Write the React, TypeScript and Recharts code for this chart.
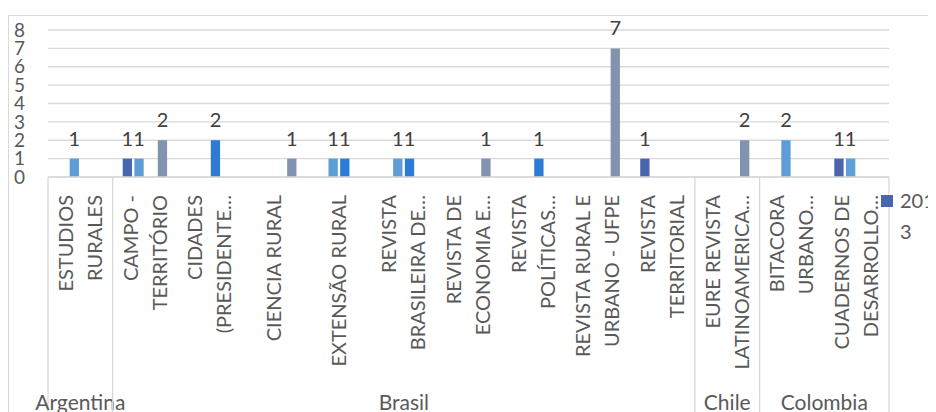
import React from 'react';
import { BarChart, Bar, XAxis, YAxis, CartesianGrid, Legend, LabelList } from 'recharts';

// journal names, one per category (\n = wrapped line, as the axis shows them)
const journals = [
  'ESTUDIOS\nRURALES',
  'CAMPO -\nTERRITÓRIO',
  'CIDADES\n(PRESIDENTE…',
  'CIENCIA RURAL',
  'EXTENSÃO RURAL',
  'REVISTA\nBRASILEIRA DE…',
  'REVISTA DE\nECONOMIA E…',
  'REVISTA\nPOLÍTICAS…',
  'REVISTA RURAL E\nURBANO - UFPE',
  'REVISTA\nTERRITORIAL',
  'EURE REVISTA\nLATINOAMERICA…',
  'BITACORA\nURBANO…',
  'CUADERNOS DE\nDESARROLLO…',
];
const countries = [
  'Argentina',
  'Brasil', 'Brasil', 'Brasil', 'Brasil', 'Brasil', 'Brasil', 'Brasil', 'Brasil', 'Brasil',
  'Chile',
  'Colombia', 'Colombia',
];

const years = ['2013', '2014', '2015', '2016'];
const colors = ['#4865AE', '#5E9ED6', '#2C7BD6', '#8193AE'];

const v2013 = [null, 1, null, null, null, null, null, null, null, 1, null, null, 1];
const v2014 = [1, 1, null, null, 1, 1, null, null, null, null, null, 2, 1];
const v2015 = [null, null, 2, null, 1, 1, null, 1, null, null, null, null, null];
const v2016 = [null, 2, null, 1, null, null, 1, null, 7, null, 2, null, null];

const yTicks = [0, 1, 2, 3, 4, 5, 6, 7, 8];

const seriesValues = [v2013, v2014, v2015, v2016];

const data = journals.map((name, i) => {
  const row: any = { name, country: countries[i] };
  years.forEach((y, k) => (row['y' + y] = seriesValues[k][i]));
  return row;
});

const W = 928;
const H = 404;
const TEXT = '#595959';
const GRID = '#d9d9d9';

function JournalTick(props: any) {
  const { x, y, payload } = props;
  const i = payload.index;
  const half = payload.offset || (W - 40 - 47) / journals.length / 2;
  const lines = journals[i].split('\n');
  const country = countries[i];
  const first = i === 0 || countries[i - 1] !== country;
  const last = i === journals.length - 1;
  const count = countries.filter((c) => c === country).length;
  const offs = lines.length === 1 ? [0] : [-14.5, 14.5];

  return (
    <g>
      {lines.map((ln, k) => {
        const lx = x + offs[k] + 7;
        const ly = y + 18;
        return (
          <text
            key={k}
            x={lx}
            y={ly}
            transform={`rotate(-90 ${lx} ${ly})`}
            textAnchor="end"
            fontSize={20}
            fill={TEXT}
          >
            {ln}
          </text>
        );
      })}
      {first && (
        <>
          <line x1={x - half} x2={x - half} y1={y} y2={H} stroke={GRID} strokeWidth={1.3} />
          <text x={x - half + count * half} y={H - 2} textAnchor="middle" fontSize={21} fill={TEXT}>
            {country}
          </text>
        </>
      )}
      {last && <line x1={x + half} x2={x + half} y1={y} y2={H} stroke={GRID} strokeWidth={1.3} />}
    </g>
  );
}

function LegendBox(props: any) {
  const item = (props.payload || [])[0];
  if (!item) return null;
  return (
    <div style={{ display: 'flex', alignItems: 'flex-start' }}>
      <span style={{ width: 12, height: 12, background: item.color, marginTop: 4, marginRight: 7, flex: 'none' }} />
      <span style={{ width: 36, wordBreak: 'break-all', fontSize: 20, lineHeight: '31px', color: TEXT, marginTop: -6 }}>
        {item.value}
      </span>
    </div>
  );
}

export default function App() {
  return (
    <div style={{ position: 'relative', width: W, height: H, fontFamily: 'Lato, sans-serif' }}>
      <div
        style={{
          position: 'absolute',
          left: 0,
          top: 7,
          right: 0,
          bottom: 0,
          borderTop: `1.5px solid ${GRID}`,
          borderLeft: `1.5px solid ${GRID}`,
        }}
      />
      <BarChart
        width={W}
        height={H}
        data={data}
        margin={{ top: 22, right: 47, bottom: 0, left: 0 }}
        barSize={9.3}
        barGap={2.4}
      >
        <CartesianGrid vertical={false} stroke={GRID} strokeWidth={1.3} />
        <XAxis
          dataKey="name"
          interval={0}
          height={235}
          tickSize={0}
          tickMargin={0}
          tickLine={false}
          axisLine={{ stroke: GRID, strokeWidth: 1.3 }}
          tick={<JournalTick />}
        />
        <YAxis
          width={40}
          domain={[0, 8]}
          ticks={yTicks}
          interval={0}
          axisLine={false}
          tickLine={false}
          tickSize={0}
          tickMargin={23}
          tick={{ fill: TEXT, fontSize: 19 }}
        />
        <Legend
          layout="vertical"
          verticalAlign="middle"
          align="center"
          content={<LegendBox />}
          wrapperStyle={{ position: 'absolute', left: 873, top: 183, width: 60, height: 60 }}
        />
        {years.map((y, k) => (
          <Bar key={y} dataKey={'y' + y} name={y} fill={colors[k]} isAnimationActive={false}>
            <LabelList dataKey={'y' + y} position="top" offset={13} fill="#404040" fontSize={20} />
          </Bar>
        ))}
      </BarChart>
    </div>
  );
}
